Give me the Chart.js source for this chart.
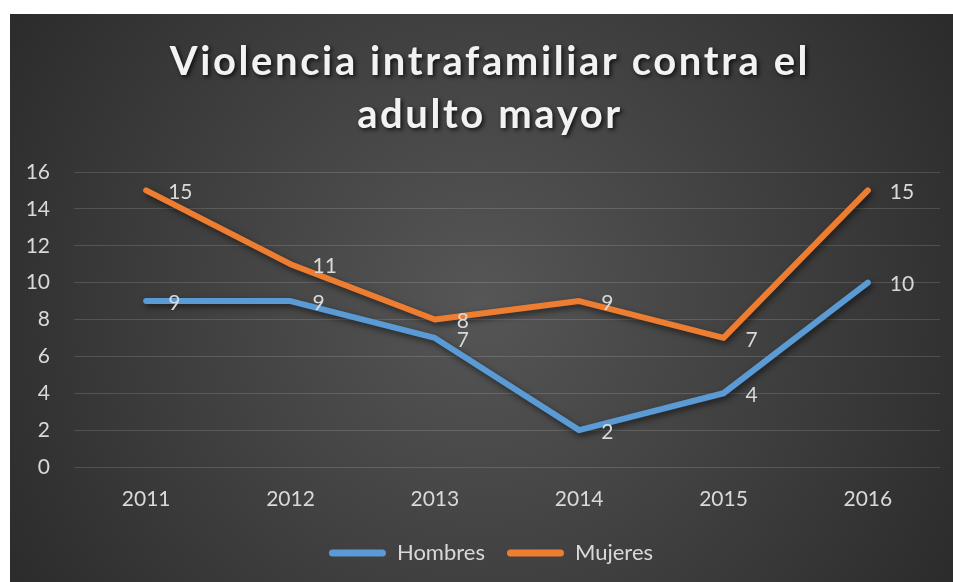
<!DOCTYPE html>
<html><head><meta charset="utf-8">
<script src="https://cdn.jsdelivr.net/npm/chart.js@4"></script>
<style>html,body{margin:0;padding:0;background:#fff;}#wrap{width:953px;height:582px;position:relative}</style>
</head><body><div id="wrap"><canvas id="c" width="953" height="582"></canvas></div>
<script>
const categories = ['2011', '2012', '2013', '2014', '2015', '2016'];
const hombres = [9, 9, 7, 2, 4, 10];
const mujeres = [15, 11, 8, 9, 7, 15];
const seriesNames = ['Hombres', 'Mujeres'];
const titleLines = ['Violencia intrafamiliar contra el', 'adulto mayor'];
const yMin = 0, yMax = 16, yStep = 2;

const FONT = 'Lato, "Open Sans", sans-serif';
const TXT = '#d9d9d9';

const bgPlugin = {
  id: 'bg',
  beforeDraw(chart) {
    const ctx = chart.ctx;
    ctx.save();
    ctx.fillStyle = '#ffffff';
    ctx.fillRect(0, 0, chart.width, chart.height);
    const g = ctx.createRadialGradient(480, 300, 0, 480, 300, 620);
    g.addColorStop(0, '#565656');
    g.addColorStop(1, '#262626');
    ctx.fillStyle = g;
    ctx.fillRect(10, 14, chart.width - 10, chart.height - 14);
    ctx.restore();
  }
};

const titlePlugin = {
  id: 'customTitle',
  afterDraw(chart) {
    const ctx = chart.ctx;
    ctx.save();
    ctx.font = 'bold 40px ' + FONT;
    if ('letterSpacing' in ctx) ctx.letterSpacing = '2.6px';
    ctx.textAlign = 'center';
    ctx.textBaseline = 'middle';
    ctx.fillStyle = '#f2f2f2';
    ctx.shadowColor = 'rgba(0,0,0,0.75)';
    ctx.shadowBlur = 4;
    ctx.shadowOffsetX = 2;
    ctx.shadowOffsetY = 2;
    titleLines.forEach((t, i) => ctx.fillText(t, 490, 62 + i * 53));
    ctx.restore();
  }
};

const legendShift = {
  id: 'legendShift',
  afterLayout(chart) {
    if (chart.legend) { chart.legend.left += 16; chart.legend.right += 16; }
  }
};

const shadowPlugin = {
  id: 'lineShadow',
  beforeDatasetDraw(chart) {
    const ctx = chart.ctx;
    ctx.save();
    ctx.shadowColor = 'rgba(0,0,0,0.55)';
    ctx.shadowBlur = 6;
    ctx.shadowOffsetX = 2;
    ctx.shadowOffsetY = 3;
  },
  afterDatasetDraw(chart) {
    chart.ctx.restore();
  }
};

const labelPlugin = {
  id: 'pointLabels',
  afterDatasetsDraw(chart) {
    const ctx = chart.ctx;
    ctx.save();
    ctx.font = '21px ' + FONT;
    ctx.fillStyle = TXT;
    ctx.textAlign = 'left';
    ctx.textBaseline = 'middle';
    chart.data.datasets.forEach((ds, di) => {
      const meta = chart.getDatasetMeta(di);
      meta.data.forEach((pt, i) => {
        ctx.fillText(String(ds.data[i]), pt.x + 22, pt.y + 2);
      });
    });
    ctx.restore();
  }
};

new Chart(document.getElementById('c'), {
  type: 'line',
  data: {
    labels: categories,
    datasets: [
      { label: seriesNames[0], data: hombres, borderColor: '#5B9BD5', backgroundColor: '#5B9BD5',
        borderWidth: 6, pointRadius: 0, borderCapStyle: 'round', borderJoinStyle: 'round', tension: 0 },
      { label: seriesNames[1], data: mujeres, borderColor: '#ED7D31', backgroundColor: '#ED7D31',
        borderWidth: 6, pointRadius: 0, borderCapStyle: 'round', borderJoinStyle: 'round', tension: 0 }
    ]
  },
  options: {
    responsive: false,
    animation: false,
    devicePixelRatio: 1,
    layout: { padding: { left: 10, top: 172, right: 13, bottom: 8 } },
    plugins: {
      title: { display: false },
      tooltip: { enabled: false },
      legend: {
        position: 'bottom',
        labels: {
          color: TXT,
          font: { family: FONT, size: 22 },
          boxWidth: 57,
          boxHeight: 7,
          padding: 22,
          useBorderRadius: true,
          borderRadius: 3.5,
          generateLabels(chart) {
            const items = Chart.defaults.plugins.legend.labels.generateLabels(chart);
            items.forEach(it => { it.lineWidth = 0; });
            return items;
          }
        }
      }
    },
    scales: {
      x: {
        offset: true,
        afterFit(scale) { scale.height = 53; },
        grid: { display: false, drawTicks: false },
        border: { display: false },
        ticks: { color: TXT, font: { family: FONT, size: 21 }, padding: 20, maxRotation: 0 }
      },
      y: {
        min: yMin, max: yMax,
        afterFit(scale) { scale.width = 64; },
        grid: { color: 'rgba(255,255,255,0.14)', lineWidth: 1, drawTicks: false },
        border: { display: false },
        ticks: { stepSize: yStep, color: TXT, font: { family: FONT, size: 21 }, padding: 24 }
      }
    }
  },
  plugins: [bgPlugin, shadowPlugin, labelPlugin, titlePlugin, legendShift]
});
</script></body></html>
